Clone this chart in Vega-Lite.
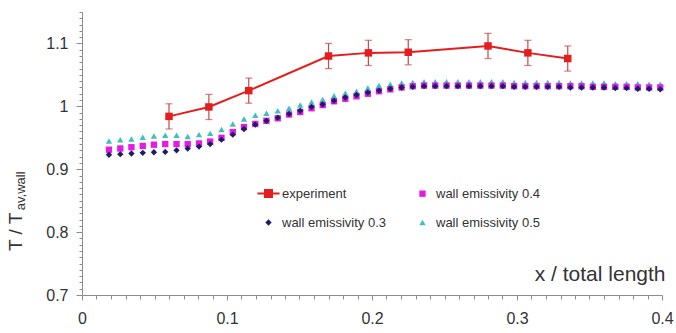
{
  "$schema": "https://vega.github.io/schema/vega-lite/v6.json",
  "width": 580,
  "height": 283,
  "autosize": {"type": "none"},
  "padding": {"left": 82, "top": 12, "right": 14, "bottom": 38},
  "background": "white",
  "config": {
    "view": {"stroke": null},
    "font": "Liberation Sans",
    "axis": {"grid": false, "domainColor": "#8c8c8c", "tickColor": "#8c8c8c", "labelColor": "#333333", "labelFont": "Liberation Sans", "labelFontSize": 16, "titleFont": "Liberation Sans", "titleColor": "#333333", "titleFontWeight": "normal", "labelOverlap": false, "labelFlush": false, "labelBound": false},
    "legend": {"orient": "none", "legendX": 180, "legendY": 175, "columns": 2, "direction": "horizontal", "columnPadding": 28, "rowPadding": 14, "labelFont": "Liberation Sans", "labelFontSize": 13, "labelColor": "#333333", "symbolSize": 40, "symbolStrokeWidth": 2, "labelOffset": 7}
  },
  "datasets": {
    "sim": [
      {"x": 0.0186, "s3": 0.923, "s2": 0.931, "s4": 0.945},
      {"x": 0.0264, "s3": 0.924, "s2": 0.933, "s4": 0.947},
      {"x": 0.0341, "s3": 0.925, "s2": 0.935, "s4": 0.948},
      {"x": 0.0419, "s3": 0.926, "s2": 0.937, "s4": 0.951},
      {"x": 0.0496, "s3": 0.927, "s2": 0.939, "s4": 0.953},
      {"x": 0.0574, "s3": 0.9275, "s2": 0.940, "s4": 0.954},
      {"x": 0.0652, "s3": 0.930, "s2": 0.940, "s4": 0.954},
      {"x": 0.0729, "s3": 0.933, "s2": 0.940, "s4": 0.952},
      {"x": 0.0807, "s3": 0.936, "s2": 0.941, "s4": 0.955},
      {"x": 0.0884, "s3": 0.940, "s2": 0.944, "s4": 0.957},
      {"x": 0.0962, "s3": 0.947, "s2": 0.950, "s4": 0.963},
      {"x": 0.1040, "s3": 0.955, "s2": 0.959, "s4": 0.972},
      {"x": 0.1117, "s3": 0.964, "s2": 0.967, "s4": 0.980},
      {"x": 0.1195, "s3": 0.971, "s2": 0.972, "s4": 0.986},
      {"x": 0.1272, "s3": 0.977, "s2": 0.977, "s4": 0.989},
      {"x": 0.1350, "s3": 0.982, "s2": 0.981, "s4": 0.993},
      {"x": 0.1428, "s3": 0.988, "s2": 0.987, "s4": 0.997},
      {"x": 0.1505, "s3": 0.993, "s2": 0.991, "s4": 1.002},
      {"x": 0.1583, "s3": 0.999, "s2": 0.997, "s4": 1.007},
      {"x": 0.1660, "s3": 1.003, "s2": 1.002, "s4": 1.011},
      {"x": 0.1738, "s3": 1.009, "s2": 1.008, "s4": 1.017},
      {"x": 0.1816, "s3": 1.014, "s2": 1.012, "s4": 1.021},
      {"x": 0.1893, "s3": 1.018, "s2": 1.016, "s4": 1.024},
      {"x": 0.1971, "s3": 1.022, "s2": 1.020, "s4": 1.029},
      {"x": 0.2048, "s3": 1.025, "s2": 1.024, "s4": 1.033},
      {"x": 0.2126, "s3": 1.028, "s2": 1.027, "s4": 1.035},
      {"x": 0.2204, "s3": 1.030, "s2": 1.030, "s4": 1.037},
      {"x": 0.2281, "s3": 1.031, "s2": 1.032, "s4": 1.038},
      {"x": 0.2359, "s3": 1.032, "s2": 1.033, "s4": 1.039},
      {"x": 0.2436, "s3": 1.032, "s2": 1.033, "s4": 1.039},
      {"x": 0.2514, "s3": 1.032, "s2": 1.033, "s4": 1.039},
      {"x": 0.2592, "s3": 1.032, "s2": 1.033, "s4": 1.039},
      {"x": 0.2669, "s3": 1.032, "s2": 1.033, "s4": 1.039},
      {"x": 0.2747, "s3": 1.032, "s2": 1.033, "s4": 1.039},
      {"x": 0.2824, "s3": 1.032, "s2": 1.033, "s4": 1.039},
      {"x": 0.2902, "s3": 1.032, "s2": 1.033, "s4": 1.039},
      {"x": 0.2980, "s3": 1.031, "s2": 1.032, "s4": 1.038},
      {"x": 0.3057, "s3": 1.031, "s2": 1.032, "s4": 1.038},
      {"x": 0.3135, "s3": 1.031, "s2": 1.032, "s4": 1.038},
      {"x": 0.3212, "s3": 1.031, "s2": 1.032, "s4": 1.038},
      {"x": 0.3290, "s3": 1.031, "s2": 1.032, "s4": 1.038},
      {"x": 0.3368, "s3": 1.030, "s2": 1.032, "s4": 1.037},
      {"x": 0.3445, "s3": 1.030, "s2": 1.032, "s4": 1.037},
      {"x": 0.3523, "s3": 1.030, "s2": 1.031, "s4": 1.037},
      {"x": 0.3600, "s3": 1.030, "s2": 1.031, "s4": 1.037},
      {"x": 0.3678, "s3": 1.029, "s2": 1.031, "s4": 1.036},
      {"x": 0.3756, "s3": 1.029, "s2": 1.031, "s4": 1.036},
      {"x": 0.3833, "s3": 1.028, "s2": 1.030, "s4": 1.036},
      {"x": 0.3911, "s3": 1.028, "s2": 1.030, "s4": 1.035},
      {"x": 0.3988, "s3": 1.027, "s2": 1.030, "s4": 1.035}
    ],
    "exp": [
      {"x": 0.06, "y": 0.984, "lo": 0.964, "hi": 1.004},
      {"x": 0.0875, "y": 0.999, "lo": 0.979, "hi": 1.019},
      {"x": 0.115, "y": 1.025, "lo": 1.005, "hi": 1.045},
      {"x": 0.17, "y": 1.080, "lo": 1.060, "hi": 1.100},
      {"x": 0.1975, "y": 1.085, "lo": 1.065, "hi": 1.105},
      {"x": 0.225, "y": 1.086, "lo": 1.066, "hi": 1.106},
      {"x": 0.28, "y": 1.096, "lo": 1.076, "hi": 1.116},
      {"x": 0.3075, "y": 1.085, "lo": 1.065, "hi": 1.105},
      {"x": 0.335, "y": 1.076, "lo": 1.056, "hi": 1.096}
    ]
  },
  "encoding": {
    "x": {"type": "quantitative", "scale": {"domain": [0, 0.4], "nice": false, "zero": false},
      "axis": {"values": [0,0.01,0.02,0.03,0.04,0.05,0.06,0.07,0.08,0.09,0.1,0.11,0.12,0.13,0.14,0.15,0.16,0.17,0.18,0.19,0.2,0.21,0.22,0.23,0.24,0.25,0.26,0.27,0.28,0.29,0.3,0.31,0.32,0.33,0.34,0.35,0.36,0.37,0.38,0.39,0.4],
        "labelExpr": "abs(datum.value*10-round(datum.value*10))<0.001 ? format(datum.value,'~g') : ''",
        "tickSize": {"condition": {"test": "abs(datum.value*10-round(datum.value*10))<0.001", "value": 5}, "value": 4},
        "labelPadding": 10,
        "title": "x / total length", "titleFontSize": 21, "titleX": 583, "titleY": -15, "titleAlign": "right", "titleBaseline": "alphabetic", "titleAnchor": "end"}},
    "y": {"type": "quantitative", "scale": {"domain": [0.7, 1.15], "nice": false, "zero": false},
      "axis": {"values": [0.7,0.71,0.72,0.73,0.74,0.75,0.76,0.77,0.78,0.79,0.8,0.81,0.82,0.83,0.84,0.85,0.86,0.87,0.88,0.89,0.9,0.91,0.92,0.93,0.94,0.95,0.96,0.97,0.98,0.99,1,1.01,1.02,1.03,1.04,1.05,1.06,1.07,1.08,1.09,1.1,1.11,1.12,1.13,1.14,1.15],
        "labelExpr": "abs(datum.value*10-round(datum.value*10))<0.001 ? format(datum.value,'~g') : ''",
        "tickSize": {"condition": {"test": "abs(datum.value*10-round(datum.value*10))<0.001", "value": 6}, "value": 3},
        "labelPadding": 8,
        "title": null}}
  },
  "layer": [
    {
      "data": {"name": "sim"},
      "transform": [{"fold": ["s4", "s2", "s3"], "as": ["series", "val"]}],
      "mark": {"type": "point", "filled": true, "size": 40, "opacity": 1, "strokeWidth": 2},
      "encoding": {
        "x": {"field": "x", "type": "quantitative"},
        "y": {"field": "val", "type": "quantitative"},
        "color": {"field": "series", "type": "nominal",
          "scale": {"domain": ["s1", "s2", "s3", "s4"], "range": ["#e41e1e", "#e619e6", "#1c1c6a", "#3cc0c0"]},
          "legend": {"title": null,
            "labelExpr": "datum.value == 's1' ? 'experiment' : datum.value == 's3' ? 'wall emissivity 0.3' : datum.value == 's2' ? 'wall emissivity 0.4' : 'wall emissivity 0.5'"}},
        "stroke": {"field": "series", "type": "nominal",
          "scale": {"domain": ["s1", "s2", "s3", "s4"], "range": ["#e41e1e", "transparent", "transparent", "transparent"]},
          "legend": {"title": null,
            "labelExpr": "datum.value == 's1' ? 'experiment' : datum.value == 's3' ? 'wall emissivity 0.3' : datum.value == 's2' ? 'wall emissivity 0.4' : 'wall emissivity 0.5'"}},
        "shape": {"field": "series", "type": "nominal",
          "scale": {"domain": ["s1", "s2", "s3", "s4"], "range": ["M-3.5,0H3.5M-1.1,-1.1H1.1V1.1H-1.1Z", "square", "diamond", "triangle-up"]},
          "legend": {"title": null,
            "labelExpr": "datum.value == 's1' ? 'experiment' : datum.value == 's3' ? 'wall emissivity 0.3' : datum.value == 's2' ? 'wall emissivity 0.4' : 'wall emissivity 0.5'"}}
      }
    },
    {
      "data": {"name": "exp"},
      "mark": {"type": "rule", "color": "#c84646", "strokeWidth": 1.2},
      "encoding": {"x": {"field": "x", "type": "quantitative"}, "y": {"field": "lo", "type": "quantitative"}, "y2": {"field": "hi"}}
    },
    {
      "data": {"name": "exp"},
      "mark": {"type": "tick", "orient": "horizontal", "color": "#c84646", "size": 7, "thickness": 1.2},
      "encoding": {"x": {"field": "x", "type": "quantitative"}, "y": {"field": "lo", "type": "quantitative"}}
    },
    {
      "data": {"name": "exp"},
      "mark": {"type": "tick", "orient": "horizontal", "color": "#c84646", "size": 7, "thickness": 1.2},
      "encoding": {"x": {"field": "x", "type": "quantitative"}, "y": {"field": "hi", "type": "quantitative"}}
    },
    {
      "data": {"name": "exp"},
      "mark": {"type": "line", "color": "#e41e1e", "strokeWidth": 2},
      "encoding": {"x": {"field": "x", "type": "quantitative"}, "y": {"field": "y", "type": "quantitative"}}
    },
    {
      "data": {"name": "exp"},
      "mark": {"type": "point", "shape": "square", "filled": true, "size": 56, "color": "#e41e1e", "opacity": 1, "strokeWidth": 0},
      "encoding": {"x": {"field": "x", "type": "quantitative"}, "y": {"field": "y", "type": "quantitative"}}
    },
    {
      "data": {"values": [{}]},
      "mark": {"type": "text", "text": "T / T", "angle": 270, "align": "left", "baseline": "alphabetic", "fontSize": 19, "color": "#333333", "font": "Liberation Sans"},
      "encoding": {"x": {"datum": -0.0414, "type": "quantitative"}, "y": {"datum": 0.7699, "type": "quantitative"}}
    },
    {
      "data": {"values": [{}]},
      "mark": {"type": "text", "text": "av,wall", "angle": 270, "align": "left", "baseline": "alphabetic", "fontSize": 13, "color": "#333333", "font": "Liberation Sans"},
      "encoding": {"x": {"datum": -0.0393, "type": "quantitative"}, "y": {"datum": 0.8349, "type": "quantitative"}}
    }
  ]
}
